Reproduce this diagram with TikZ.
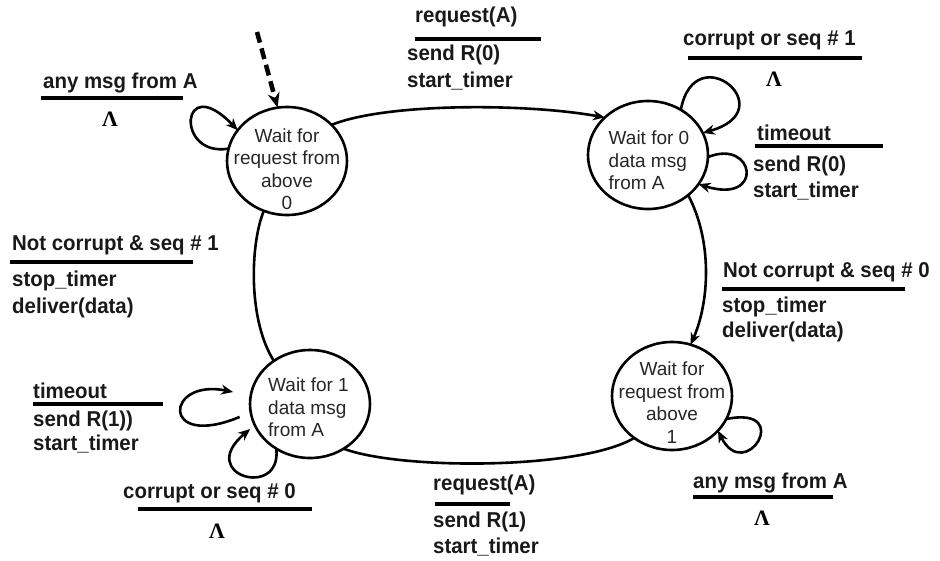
\documentclass[tikz,border=0pt]{standalone}
\usepackage{fontspec}
\setmainfont{Liberation Sans}
\newfontfamily\lblfont[FakeStretch=0.95]{Liberation Sans Bold}
\newfontfamily\lamfont{Liberation Serif}
\usetikzlibrary{shapes.geometric,arrows.meta}
\tikzset{
  state/.style={ellipse, draw, line width=2.6pt, minimum width=120pt, minimum height=108pt, inner sep=0pt, outer sep=0pt},
  stxt/.style={font=\fontsize{19}{22.5}\selectfont, text=black!85, inner sep=0pt},
  lbl/.style={font=\lblfont\fontsize{21.5}{26}\selectfont, text=black!90, inner sep=0pt, anchor=west, text height=16pt, text depth=4.5pt},
  bar/.style={line width=4pt},
  lam/.style={font=\lamfont\bfseries\fontsize{22}{22}\selectfont, inner sep=0pt},
  arr/.style={line width=2.6pt, -{Stealth[length=12pt,width=10pt]}},
  plain/.style={line width=2.6pt},
  initarr/.style={line width=4.5pt, dash pattern=on 11pt off 6pt, -{Stealth[length=15pt,width=12pt]}}
}
\begin{document}
\begin{tikzpicture}[x=1pt,y=-1pt]
\useasboundingbox (0,0) rectangle (940,560);
% states
\node[state] (s0) at (287,161) {};
\node[state] (s1) at (648,155) {};
\node[state] (s2) at (672,396) {};
\node[state] (s3) at (310,404) {};
\node[stxt, align=center] (t0) at (287,169) {Wait for\\request from\\above\\0};
\node[stxt, align=left] (t1) at (649,160.5) {Wait for 0\\data msg\\from A};
\node[stxt, align=center] (t2) at (672,402.5) {Wait for\\request from\\above\\1};
\node[stxt, align=left] (t3) at (308.5,407.5) {Wait for 1\\data msg\\from A};

% initial arrow
\coordinate (init) at (257,32);
\draw[initarr] (init) -- (s0.100);

% transitions
\draw[arr] (s0.39) .. controls (385,103) and (525,103) .. (s1.139);
\draw[arr] (s1.-45) .. controls (712,240) and (710,300) .. (s2.70);
\draw[plain] (s2.228) .. controls (580,470) and (400,470) .. (s3.-53);
\draw[plain] (s3.130) .. controls (248,320) and (250,245) .. (s0.245);

% self loops
\draw[arr] (s0.168) .. controls (175,158) and (180,70) .. (s0.148);
\draw[arr] (s1.54) .. controls (695,35) and (785,110) .. (s1.22);
\draw[arr] (s1.-2) .. controls (755,138) and (765,205) .. (s1.-30);
\draw[arr] (s2.-23) .. controls (795,405) and (745,485) .. (s2.-37);
\draw[arr, shorten >=18pt, shorten <=12pt] (s3.188) .. controls (160,450) and (165,378) .. (s3.172);
\draw[arr, shorten >=6pt] (s3.233) .. controls (282,500) and (195,475) .. (s3.201);

% labels: top-left loop
\node[lbl] (l1a) at (43,83) {any msg from A};
\draw[bar] (41,98) -- (183,98);
\node[lam] (l1b) at (110,119) {Λ};
% S0 -> S1
\node[lbl] (l2a) at (415,17) {request(A)};
\draw[bar] (415,39) -- (541,39);
\node[lbl] (l2b) at (407,55) {send R(0)};
\node[lbl] (l2c) at (407,82) {start\_timer};
% S1 top loop
\node[lbl] (l3a) at (683,40) {corrupt or seq \# 1};
\draw[bar] (688,58) -- (862,58);
\node[lam] (l3b) at (774,79) {Λ};
% S1 right loop
\node[lbl] (l4a) at (757,135) {timeout};
\draw[bar] (755,146) -- (883,146);
\node[lbl] (l4b) at (753,166) {send R(0)};
\node[lbl] (l4c) at (753,192) {start\_timer};
% S3 -> S0
\node[lbl] (l5a) at (12,245) {Not corrupt \& seq \# 1};
\draw[bar] (10,262) -- (193,262);
\node[lbl] (l5b) at (12,281) {stop\_timer};
\node[lbl] (l5c) at (12,308) {deliver(data)};
% S1 -> S2
\node[lbl] (l6a) at (723,272) {Not corrupt \& seq \# 0};
\draw[bar] (722,289) -- (905,289);
\node[lbl] (l6b) at (722,307) {stop\_timer};
\node[lbl] (l6c) at (722,332) {deliver(data)};
% S3 timeout loop
\node[lbl] (l7a) at (33,393) {timeout};
\draw[bar] (33,404) -- (163,404);
\node[lbl] (l7b) at (33,421) {send R(1))};
\node[lbl] (l7c) at (33,445) {start\_timer};
% S3 corrupt loop
\node[lbl] (l8a) at (123,493) {corrupt or seq \# 0};
\draw[bar] (138,509) -- (312,509);
\node[lam] (l8b) at (217,531) {Λ};
% S2 -> S3
\node[lbl] (l9a) at (433,485) {request(A)};
\draw[bar] (435,504) -- (510,504);
\node[lbl] (l9b) at (433,522) {send R(1)};
\node[lbl] (l9c) at (433,548) {start\_timer};
% S2 loop
\node[lbl] (l10a) at (693,483) {any msg from A};
\draw[bar] (693,497) -- (833,497);
\node[lam] (l10b) at (762,518) {Λ};
\end{tikzpicture}
\end{document}
